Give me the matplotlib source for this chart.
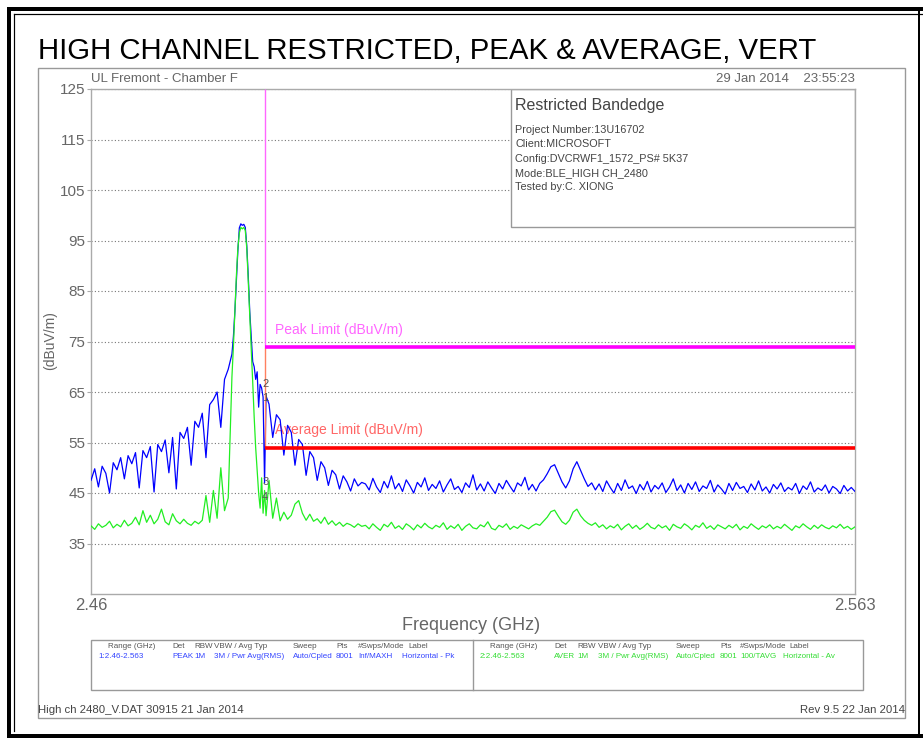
import matplotlib
matplotlib.use("Agg")
import matplotlib.pyplot as plt
from matplotlib.lines import Line2D
from matplotlib.patches import Rectangle

W, H = 923, 740

# sweep frequencies (GHz), split by region of the trace
freq_skirt_lo = [
    2.4600, 2.4605, 2.4610, 2.4615, 2.4620, 2.4625, 2.4630, 2.4635, 2.4640, 2.4645,
    2.4650, 2.4655, 2.4660, 2.4665, 2.4670, 2.4675, 2.4680, 2.4685, 2.4690, 2.4695,
    2.4700, 2.4705, 2.4710, 2.4715, 2.4720, 2.4725, 2.4730, 2.4735, 2.4740, 2.4745,
    2.4750, 2.4755, 2.4760, 2.4765, 2.4770, 2.4775, 2.4780, 2.4785, 2.4790,
]
freq_carrier = [
    2.4792, 2.4794, 2.4796, 2.4798, 2.4800, 2.4802, 2.4804, 2.4806, 2.4808, 2.4810,
    2.4812, 2.4814, 2.4816, 2.4818, 2.4820, 2.4822, 2.4824, 2.4826, 2.4828, 2.4830,
    2.4832, 2.4834,
]
freq_skirt_hi = [
    2.4836, 2.4840, 2.4845, 2.4850, 2.4855, 2.4860, 2.4865, 2.4870, 2.4875, 2.4880,
    2.4885, 2.4890, 2.4895, 2.4900, 2.4905, 2.4910, 2.4915, 2.4920, 2.4925, 2.4930,
    2.4935, 2.4940, 2.4945, 2.4950, 2.4955, 2.4960, 2.4965,
]
freq_floor = [
    2.4970, 2.4975, 2.4980, 2.4985, 2.4990, 2.4995, 2.5000, 2.5005, 2.5010, 2.5015,
    2.5020, 2.5025, 2.5030, 2.5035, 2.5040, 2.5045, 2.5050, 2.5055, 2.5060, 2.5065,
    2.5070, 2.5075, 2.5080, 2.5085, 2.5090, 2.5095, 2.5100, 2.5105, 2.5110, 2.5115,
    2.5120, 2.5125, 2.5130, 2.5135, 2.5140, 2.5145, 2.5150, 2.5155, 2.5160, 2.5165,
    2.5170, 2.5175, 2.5180, 2.5185, 2.5190, 2.5195, 2.5200, 2.5205, 2.5210, 2.5215,
    2.5220, 2.5225, 2.5230, 2.5235, 2.5240, 2.5245, 2.5250, 2.5255, 2.5260, 2.5265,
    2.5270, 2.5275, 2.5280, 2.5285, 2.5290, 2.5295, 2.5300, 2.5305, 2.5310, 2.5315,
    2.5320, 2.5325, 2.5330, 2.5335, 2.5340, 2.5345, 2.5350, 2.5355, 2.5360, 2.5365,
    2.5370, 2.5375, 2.5380, 2.5385, 2.5390, 2.5395, 2.5400, 2.5405, 2.5410, 2.5415,
    2.5420, 2.5425, 2.5430, 2.5435, 2.5440, 2.5445, 2.5450, 2.5455, 2.5460, 2.5465,
    2.5470, 2.5475, 2.5480, 2.5485, 2.5490, 2.5495, 2.5500, 2.5505, 2.5510, 2.5515,
    2.5520, 2.5525, 2.5530, 2.5535, 2.5540, 2.5545, 2.5550, 2.5555, 2.5560, 2.5565,
    2.5570, 2.5575, 2.5580, 2.5585, 2.5590, 2.5595, 2.5600, 2.5605, 2.5610, 2.5615,
    2.5620, 2.5625, 2.5630,
]

# trace 1: peak detector (dBuV/m)
peak_skirt_lo = [
    47.5, 49.8, 46.2, 50.3, 48.9, 45.0, 51.0, 49.6, 52.0, 47.8,
    52.4, 50.8, 53.0, 46.0, 53.4, 52.0, 54.2, 45.2, 54.6, 53.2,
    55.5, 49.0, 56.0, 45.8, 57.0, 55.8, 58.0, 50.5, 59.2, 58.0,
    60.8, 52.0, 62.5, 63.5, 65.0, 58.0, 67.5, 69.5, 72.5,
]
peak_carrier = [
    76.0, 81.0, 87.0, 93.0, 97.5, 98.3, 98.0, 98.2, 97.6, 94.0,
    88.0, 81.0, 76.0, 71.0, 70.0, 67.5, 69.0, 62.0, 66.5, 65.8,
    64.0, 47.0,
]
peak_skirt_hi = [
    64.2, 62.6, 56.0, 60.5, 59.5, 52.5, 58.4, 57.0, 50.5, 55.6,
    54.6, 48.5, 53.2, 52.0, 47.5, 51.2, 50.0, 46.5, 49.5, 48.6,
    45.8, 48.4, 47.2, 45.4, 47.8, 46.4, 47.1,
]
peak_floor = [
    46.8, 45.6, 47.9, 46.2, 45.1, 47.3, 46.0, 48.4, 45.8, 46.9,
    45.3, 47.6, 46.4, 45.0, 47.1, 46.2, 48.0, 45.5, 46.7, 45.9,
    47.4, 45.2, 46.6, 47.8, 45.7, 46.3, 45.1, 47.0, 46.1, 48.6,
    45.6, 46.8, 45.4, 47.2, 46.0, 44.9, 46.9, 45.8, 47.5, 46.3,
    45.2, 47.0, 46.4, 48.1, 45.6, 46.7, 45.4, 46.9, 47.6, 48.8,
    50.2, 50.6, 48.9, 47.2, 46.0, 47.4, 49.8, 51.2, 49.5, 47.8,
    46.3, 47.0, 45.6, 46.8, 45.3, 47.4, 46.1, 45.0, 46.9, 45.5,
    47.6, 45.9, 46.4, 44.9, 46.7, 45.6, 47.3, 45.2, 46.5, 45.8,
    47.0, 45.1, 46.2, 47.8, 45.5, 46.6, 45.0, 46.9, 45.7, 47.2,
    45.3, 46.4, 45.9, 47.5, 45.2, 46.6, 45.8, 44.8, 46.9, 45.5,
    47.1, 45.9, 46.3, 45.1, 46.8, 45.6, 47.4, 45.4, 46.2, 45.0,
    46.7, 45.8, 47.0, 45.3, 46.1, 45.6, 46.9, 44.9, 46.4, 45.7,
    47.2, 45.2, 46.0, 45.5, 46.6, 45.0, 46.3, 45.8, 44.9, 46.5,
    45.4, 46.1, 45.3,
]

# trace 2: average detector (dBuV/m)
avg_skirt_lo = [
    38.5, 37.8, 38.9, 38.2, 38.6, 39.4, 38.1, 38.8, 38.3, 39.6,
    38.5, 39.0, 40.2, 38.7, 41.5, 39.2, 40.6, 38.9, 39.8, 41.8,
    39.3, 38.7, 40.9, 39.5, 38.9, 39.8, 39.0, 38.6, 39.4, 38.9,
    39.6, 44.5, 39.2, 45.5, 40.0, 50.0, 41.5, 44.0, 68.0,
]
avg_carrier = [
    74.0, 81.0, 88.0, 93.5, 96.5, 97.6, 97.3, 97.6, 97.0, 93.5,
    87.0, 80.0, 73.5, 67.0, 60.0, 54.0, 49.5, 45.0, 42.0, 48.0,
    41.0, 45.5,
]
avg_skirt_hi = [
    40.5, 47.5, 40.0, 44.0, 39.5, 41.2, 39.8, 40.6, 42.8, 43.5,
    41.0, 39.6, 40.8, 39.4, 39.9, 39.0, 40.2, 38.8, 39.5, 38.6,
    39.2, 38.4, 39.0, 38.7, 38.2, 38.9, 38.4,
]
avg_floor = [
    38.6, 37.9, 38.9, 38.2, 37.6, 38.8, 38.3, 39.2, 38.0, 38.5,
    37.8, 38.9, 38.4, 37.7, 38.7, 38.1, 39.0, 38.3, 37.9, 38.6,
    38.2, 39.1, 37.8, 38.5, 38.0, 38.8, 37.6, 38.4, 38.9, 38.1,
    37.9, 38.7, 38.3, 39.3, 38.0, 37.7, 38.6, 38.2, 38.9, 37.8,
    38.4, 38.0, 38.7, 38.3, 37.9, 38.5, 38.9, 38.6, 39.4, 40.2,
    41.3, 41.6, 40.4, 39.3, 38.8, 39.6, 41.2, 41.8, 40.5, 39.6,
    39.0, 38.6, 39.1, 38.2, 38.7, 37.9, 38.5, 38.1, 38.8, 37.7,
    38.4, 38.9, 38.0, 38.6, 37.8, 38.3, 39.0, 38.2, 37.9, 38.7,
    38.1, 38.5, 37.6, 38.8, 38.3, 38.0, 38.9, 38.4, 37.7, 38.6,
    38.2, 39.1, 38.0, 38.5, 37.8, 38.7, 38.3, 37.9, 38.6, 38.1,
    38.8, 37.7, 38.4, 38.0, 38.9, 38.3, 37.8, 38.5, 38.1, 38.7,
    37.9, 38.4, 38.0, 38.8, 38.2, 37.6, 38.5, 38.1, 38.9, 38.3,
    37.8, 38.6, 38.0, 38.7, 38.2, 37.9, 38.5, 38.1, 38.8, 38.0,
    38.4, 37.8, 38.3,
]

band_edge = 2.4835
peak_limit = 74
avg_limit = 54
f_start, f_stop = 2.46, 2.563
y_ticks = [35, 45, 55, 65, 75, 85, 95, 105, 115, 125]

freq = freq_skirt_lo + freq_carrier + freq_skirt_hi + freq_floor
peak = peak_skirt_lo + peak_carrier + peak_skirt_hi + peak_floor
avg = avg_skirt_lo + avg_carrier + avg_skirt_hi + avg_floor

info_lines = ["Project Number:13U16702", "Client:MICROSOFT",
              "Config:DVCRWF1_1572_PS# 5K37", "Mode:BLE_HIGH CH_2480",
              "Tested by:C. XIONG"]

tbl_headers = ["Range (GHz)", "Det", "RBW", "VBW / Avg Typ", "Sweep", "Pts",
               "#Swps/Mode", "Label"]
tbl_trace1 = ["1:2.46-2.563", "PEAK", "1M", "3M / Pwr Avg(RMS)", "Auto/Cpled",
              "8001", "Inf/MAXH", "Horizontal - Pk"]
tbl_trace2 = ["2:2.46-2.563", "AVER", "1M", "3M / Pwr Avg(RMS)", "Auto/Cpled",
              "8001", "100/TAVG", "Horizontal - Av"]

FONT = ["Liberation Sans", "DejaVu Sans"]
GREY = "#666666"


def px(x):
    return x / W


def py(y):
    return 1 - y / H


fig = plt.figure(figsize=(W / 100, H / 100), dpi=100)

# black double frame around the page
for (x0, y0, x1, y1, lw) in [(9, 9, 923, 9, 4), (9, 9, 9, 736, 4), (9, 736, 923, 736, 4),
                             (919, 9, 919, 736, 2), (14, 14, 923, 14, 1.2),
                             (14, 14, 14, 731, 1.2)]:
    fig.add_artist(Line2D([px(x0), px(x1)], [py(y0), py(y1)], color="black", lw=lw * 0.72))

fig.text(px(38), py(51), "HIGH CHANNEL RESTRICTED, PEAK & AVERAGE, VERT",
         fontsize=21.2, family=FONT, va="center")

# grey instrument frame
fig.add_artist(Rectangle((px(38), py(718)), px(905) - px(38), py(68) - py(718),
                         fill=False, ec="#999999", lw=1))
fig.text(px(91), py(79), "UL Fremont - Chamber F", fontsize=9.5, family=FONT,
         color=GREY, va="center")
fig.text(px(855), py(79), "29 Jan 2014    23:55:23", fontsize=9.5, family=FONT,
         color=GREY, va="center", ha="right")

ax = fig.add_axes([px(91), py(594), px(855) - px(91), py(89) - py(594)])
ax.set_xlim(f_start, f_stop)
ax.set_ylim(25, 125)
for s in ax.spines.values():
    s.set_color("#aaaaaa")
    s.set_linewidth(1)
ax.set_yticks(y_ticks)
ax.set_yticklabels([str(v) for v in y_ticks], family=FONT, fontsize=11, color=GREY)
ax.tick_params(axis="y", length=3, color="#aaaaaa", pad=1)
ax.set_xticks([f_start, f_stop])
ax.set_xticklabels(["2.46", "2.563"], family=FONT, fontsize=12, color=GREY)
ax.tick_params(axis="x", length=0, pad=3)
ax.grid(axis="y", color="#777777", ls=(0, (1, 2)), lw=0.8)
ax.set_axisbelow(True)

ax.plot(freq, peak, color="#0000ff", lw=0.9, zorder=3)
ax.plot(freq, avg, color="#22ee22", lw=0.9, zorder=3)

ax.vlines(band_edge, peak_limit, 125, color="#ff66ff", lw=1, zorder=4)
ax.vlines(band_edge, avg_limit, peak_limit, color="#ff8060", lw=1, zorder=4)
ax.hlines(peak_limit, band_edge, f_stop, color="#ff00ff", lw=2.6, zorder=4)
ax.hlines(avg_limit, band_edge, f_stop, color="#ff0000", lw=2.6, zorder=4)
ax.text(2.4848, 77.3, "Peak Limit (dBuV/m)", color="#ff66ff",
        fontsize=10, family=FONT, va="center", zorder=2)
ax.text(2.4848, 57.5, "Average Limit (dBuV/m)", color="#ff6666",
        fontsize=10, family=FONT, va="center", zorder=2)

for lbl, lvl in [("2", 66.6), ("1", 63.8), ("3", 47.2), ("4", 44.2)]:
    ax.text(band_edge, lvl, lbl, fontsize=8, family=FONT, color="#555555",
            ha="center", va="center", zorder=5)

# info box
ax.add_patch(Rectangle((0.5497, 0.7267), 0.4503, 0.2733, transform=ax.transAxes,
                       fc="white", ec="#999999", lw=1, zorder=2))
ax.text(0.555, 0.968, "Restricted Bandedge", transform=ax.transAxes, fontsize=11.5,
        family=FONT, color="#444444", va="center", zorder=3)
for i, line in enumerate(info_lines):
    ax.text(0.555, 0.919 - i * 0.0285, line, transform=ax.transAxes, fontsize=7.8,
            family=FONT, color="#444444", va="center", zorder=3)

fig.text(px(50), py(341), "(dBuV/m)", family=FONT, fontsize=10, color=GREY,
         rotation=90, ha="center", va="center")
fig.text(px(471), py(625), "Frequency (GHz)", family=FONT, fontsize=13,
         color=GREY, ha="center", va="center")

# trace table
fig.add_artist(Rectangle((px(91), py(690)), px(863) - px(91), py(640) - py(690),
                         fill=False, ec="#999999", lw=1))
fig.add_artist(Line2D([px(473), px(473)], [py(640), py(690)], color="#999999", lw=1))
col_x1 = [98, 172, 194, 214, 293, 336, 358, 402]
col_x2 = [480, 554, 577, 598, 676, 720, 740, 783]
for xs, vals, col in [(col_x1, tbl_trace1, "#3344ff"), (col_x2, tbl_trace2, "#33dd33")]:
    for x, h, v in zip(xs, tbl_headers, vals):
        hx = x + 10 if h == "Range (GHz)" else x
        if h == "Label":
            hx = x + 6
        fig.text(px(hx), py(647), h, fontsize=5.8, family=FONT, color="#555555", va="center")
        fig.text(px(x), py(657), v, fontsize=5.8, family=FONT, color=col, va="center")

fig.text(px(38), py(710), "High ch 2480_V.DAT 30915 21 Jan 2014", fontsize=8.2,
         family=FONT, color="#444444", va="center")
fig.text(px(905), py(710), "Rev 9.5 22 Jan 2014", fontsize=8.2, family=FONT,
         color="#444444", va="center", ha="right")

fig.savefig("out.png", dpi=100)
